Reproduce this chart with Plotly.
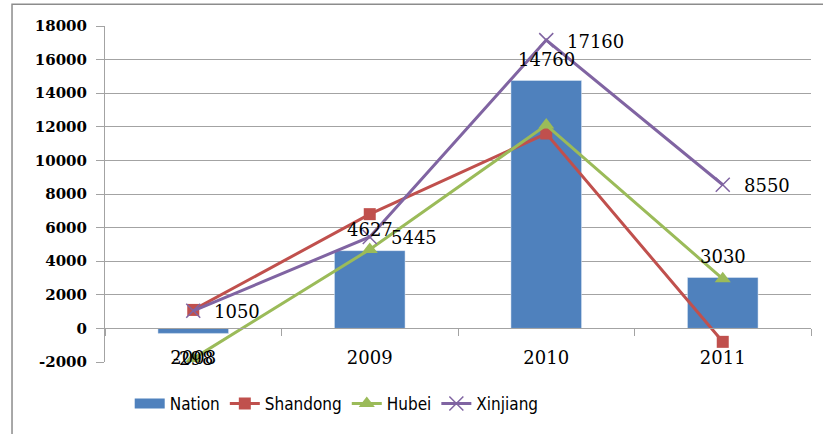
import plotly.graph_objects as go

# Data
years = ["2008", "2009", "2010", "2011"]
nation = [-298, 4627, 14760, 3030]
shandong = [1100, 6800, 11600, -800]
hubei = [-1800, 4700, 12100, 2950]
xinjiang = [1050, 5445, 17160, 8550]

y_ticks = list(range(-2000, 18001, 2000))

BLUE = "#4F81BD"
RED = "#C0504D"
GREEN = "#9BBB59"
PURPLE = "#8064A2"
GRID = "#a3a3a3"

SERIF = "DejaVu Serif, Liberation Serif, serif"
NARROW = "Liberation Sans Narrow, DejaVu Sans Condensed, Arial Narrow, sans-serif"

fig = go.Figure()

fig.add_trace(go.Bar(
    x=years, y=nation, name="Nation", marker_color=BLUE,
    width=0.4, showlegend=False,
))
# legend key for the bars, drawn as a wide block
fig.add_trace(go.Scatter(
    x=[None], y=[None], mode="lines", name="Nation",
    line=dict(color=BLUE, width=10),
))
fig.add_trace(go.Scatter(
    x=years, y=shandong, name="Shandong", mode="lines+markers",
    line=dict(color=RED, width=3),
    marker=dict(symbol="square", size=12, color=RED),
))
fig.add_trace(go.Scatter(
    x=years, y=hubei, name="Hubei", mode="lines+markers",
    line=dict(color=GREEN, width=3),
    marker=dict(symbol="triangle-up", size=14, color=GREEN),
))
fig.add_trace(go.Scatter(
    x=years, y=xinjiang, name="Xinjiang", mode="lines+markers",
    line=dict(color=PURPLE, width=3),
    marker=dict(symbol="x-thin-open", size=14, line=dict(color=PURPLE, width=1.5)),
))

# annotations on the category axis are placed by category index
annotations = []
# value labels at the outer end of each bar
for i, v in enumerate(nation):
    annotations.append(dict(
        x=i, y=v, xref="x", yref="y", text=str(v), showarrow=False,
        xanchor="center", yanchor="middle",
        yshift=21 if v >= 0 else -25,
        font=dict(family=SERIF, size=18, color="black"),
    ))
# value labels to the right of the Xinjiang markers
for i, v in enumerate(xinjiang):
    annotations.append(dict(
        x=i, y=v, xref="x", yref="y", text=str(v), showarrow=False,
        xanchor="left", yanchor="middle", xshift=19, yshift=-1,
        font=dict(family=SERIF, size=18, color="black"),
    ))

fig.update_layout(
    width=823, height=434,
    margin=dict(l=105, r=12, t=26, b=69),
    paper_bgcolor="white", plot_bgcolor="white",
    bargap=0.6,
    annotations=annotations,
    legend=dict(
        orientation="h", x=0.035, xanchor="left", y=-0.125, yanchor="middle",
        font=dict(family=NARROW, size=17, color="black"),
        itemwidth=30, bgcolor="rgba(0,0,0,0)",
    ),
    shapes=[dict(
        type="rect", xref="paper", yref="paper",
        x0=-0.1317, x1=1.1, y0=-0.4, y1=1.0649,
        line=dict(color="#8c8c8c", width=1.5), layer="below",
    )],
    xaxis=dict(
        type="category", range=[-0.5, 3.5],
        anchor="free", position=0.1,
        showline=True, linecolor=GRID, linewidth=1,
        ticks="outside", ticklen=7, tickcolor=GRID, tickson="boundaries",
        ticklabelstandoff=13,
        tickfont=dict(family=SERIF, size=18, color="black"),
        showgrid=False,
    ),
    yaxis=dict(
        range=[-2000, 18000], tickvals=y_ticks,
        ticktext=[str(v) for v in y_ticks],
        showgrid=True, gridcolor=GRID, gridwidth=1,
        zeroline=False,
        showline=True, linecolor=GRID, linewidth=1,
        ticks="outside", ticklen=8, tickcolor=GRID,
        ticklabelstandoff=6,
        tickfont=dict(family="DejaVu Serif, serif", size=15, color="black", weight="bold"),
    ),
)

fig.write_html("out.html")
